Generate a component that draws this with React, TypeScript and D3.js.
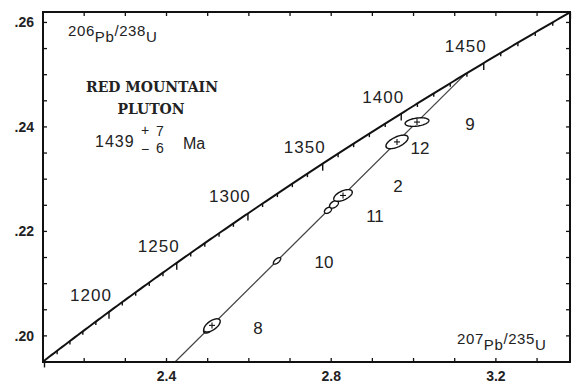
import React from "react";
import * as d3 from "d3";

const W = 572;
const H = 383;
const PLOT = { left: 43, right: 570, top: 12, bottom: 362 };

// axes
const X_DOMAIN = [2.1, 3.38];
const Y_DOMAIN = [0.195, 0.262];
const X_LABEL_TICKS = [2.4, 2.8, 3.2];
const X_LABEL_TEXT = ["2.4", "2.8", "3.2"];
const X_MINOR_TICKS = [2.2, 2.3, 2.4, 2.5, 2.6, 2.7, 2.8, 2.9, 3.0, 3.1, 3.2, 3.3];
const Y_LABEL_TICKS = [0.2, 0.22, 0.24, 0.26];
const Y_LABEL_TEXT = [".20", ".22", ".24", ".26"];
const Y_MINOR_TICKS = [0.2, 0.205, 0.21, 0.215, 0.22, 0.225, 0.23, 0.235, 0.24, 0.245, 0.25, 0.255, 0.26];

// decay constants (per Ma)
const LAMBDA_238 = 1.55125e-4;
const LAMBDA_235 = 9.8485e-4;

// concordia
const CONCORDIA_AGE_LABELS = [1200, 1250, 1300, 1350, 1400, 1450];
const CONCORDIA_TICK_AGES = d3.range(1150, 1501, 10);

// discordia intercepts (Ma)
const UPPER_INTERCEPT = 1439;
const LOWER_INTERCEPT = 76;

// analyses: 207Pb/235U, 206Pb/238U, errors, correlation
const SAMPLE_X = [2.5008, 2.5105, 2.6684, 2.7922, 2.8068, 2.8287, 2.9598, 3.0084];
const SAMPLE_Y = [0.20126, 0.20201, 0.21436, 0.22403, 0.22517, 0.22688, 0.23713, 0.24093];
const SAMPLE_SX = [0.0108, 0.0199, 0.0089, 0.0087, 0.0108, 0.0225, 0.0269, 0.0289];
const SAMPLE_SY = [0.00072, 0.00126, 0.00063, 0.00059, 0.00072, 0.00112, 0.0013, 0.00082];
const SAMPLE_RHO = [0.45, 0.61, 0.665, 0.42, 0.45, 0.56, 0.605, 0.344];
const SAMPLE_CROSS = [false, true, false, false, false, true, true, true];

// fraction labels
const POINT_LABELS = ["8", "10", "11", "2", "12", "9"];
const POINT_LABEL_X = [2.6222, 2.7825, 2.9064, 2.9623, 3.0157, 3.1372];
const POINT_LABEL_Y = [0.20151, 0.21414, 0.22295, 0.22869, 0.23597, 0.24056];

const conc = (t: number): [number, number] => [
  Math.exp(LAMBDA_235 * t) - 1,
  Math.exp(LAMBDA_238 * t) - 1,
];

export default function App() {
  const x = d3.scaleLinear().domain(X_DOMAIN).range([PLOT.left, PLOT.right]);
  const y = d3.scaleLinear().domain(Y_DOMAIN).range([PLOT.bottom, PLOT.top]);

  const concAges = d3.range(1100, 1560, 2);
  const concPath = d3
    .line<number>()
    .x((t) => x(conc(t)[0]))
    .y((t) => y(conc(t)[1]))(concAges) as string;

  const inPlot = (px: number, py: number) =>
    px >= PLOT.left - 0.5 && px <= PLOT.right + 0.5 && py >= PLOT.top - 0.5 && py <= PLOT.bottom + 0.5;

  const up = conc(UPPER_INTERCEPT);
  const lo = conc(LOWER_INTERCEPT);
  const discPath = d3.line()([
    [x(lo[0]), y(lo[1])],
    [x(up[0]), y(up[1])],
  ]) as string;

  const ellipsePath = (i: number) => {
    const pts: [number, number][] = d3.range(0, 2 * Math.PI + 0.001, Math.PI / 36).map((a) => {
      const dx = SAMPLE_SX[i] * Math.cos(a);
      const dy = SAMPLE_SY[i] * (SAMPLE_RHO[i] * Math.cos(a) + Math.sqrt(1 - SAMPLE_RHO[i] ** 2) * Math.sin(a));
      return [x(SAMPLE_X[i] + dx), y(SAMPLE_Y[i] + dy)];
    });
    return d3.line().curve(d3.curveLinearClosed)(pts) as string;
  };

  const sans = "'Liberation Sans', Arial, sans-serif";

  return (
    <svg
      width={W}
      height={H}
      viewBox={`0 0 ${W} ${H}`}
      style={{ position: "absolute", left: 0, top: 0, background: "#fff" }}
      fontFamily={sans}
    >
      <defs>
        <clipPath id="plotclip">
          <rect x={PLOT.left} y={PLOT.top} width={PLOT.right - PLOT.left} height={PLOT.bottom - PLOT.top} />
        </clipPath>
      </defs>

      {/* discordia */}
      <path d={discPath} stroke="#444" strokeWidth={1.3} fill="none" clipPath="url(#plotclip)" />

      {/* concordia */}
      <path d={concPath} stroke="#111" strokeWidth={2} fill="none" clipPath="url(#plotclip)" />
      {CONCORDIA_TICK_AGES.map((t) => {
        const px = x(conc(t)[0]);
        const py = y(conc(t)[1]);
        if (!inPlot(px, py)) return null;
        const major = t % 50 === 0;
        return (
          <line key={t} x1={px} y1={py} x2={px} y2={py + (major ? 7 : 3.5)} stroke="#111" strokeWidth={1.4} />
        );
      })}
      {CONCORDIA_AGE_LABELS.map((t) => {
        const px = x(conc(t)[0]);
        const py = y(conc(t)[1]);
        return (
          <text key={t} x={px - 18} y={py - 11} fontSize={17} letterSpacing={1} textAnchor="middle" fill="#222">
            {t}
          </text>
        );
      })}

      {/* error ellipses */}
      {SAMPLE_X.map((_, i) => (
        <g key={i}>
          <path d={ellipsePath(i)} fill="#fff" stroke="#111" strokeWidth={1.4} />
          {SAMPLE_CROSS[i] && (
            <g stroke="#111" strokeWidth={1.1}>
              <line x1={x(SAMPLE_X[i]) - 3} x2={x(SAMPLE_X[i]) + 3} y1={y(SAMPLE_Y[i])} y2={y(SAMPLE_Y[i])} />
              <line x1={x(SAMPLE_X[i])} x2={x(SAMPLE_X[i])} y1={y(SAMPLE_Y[i]) - 3} y2={y(SAMPLE_Y[i]) + 3} />
            </g>
          )}
        </g>
      ))}

      {POINT_LABELS.map((l, i) => (
        <text
          key={l}
          x={x(POINT_LABEL_X[i])}
          y={y(POINT_LABEL_Y[i]) + 6}
          fontSize={17}
          textAnchor="middle"
          fill="#222"
        >
          {l}
        </text>
      ))}

      {/* frame ticks */}
      {X_MINOR_TICKS.map((v) => (
        <g key={"x" + v} stroke="#111" strokeWidth={1.3}>
          <line x1={x(v)} x2={x(v)} y1={PLOT.bottom} y2={PLOT.bottom - 4} />
          <line x1={x(v)} x2={x(v)} y1={PLOT.top} y2={PLOT.top + 4} />
        </g>
      ))}
      {Y_MINOR_TICKS.map((v) => (
        <g key={"y" + v} stroke="#111" strokeWidth={1.3}>
          <line x1={PLOT.left} x2={PLOT.left + 4} y1={y(v)} y2={y(v)} />
          <line x1={PLOT.right} x2={PLOT.right - 4} y1={y(v)} y2={y(v)} />
        </g>
      ))}

      <rect
        x={PLOT.left}
        y={PLOT.top}
        width={PLOT.right - PLOT.left}
        height={PLOT.bottom - PLOT.top}
        fill="none"
        stroke="#111"
        strokeWidth={2}
      />

      {X_LABEL_TICKS.map((v, i) => (
        <text key={v} x={x(v)} y={381} fontSize={14} textAnchor="middle" fill="#222" fontWeight="bold">
          {X_LABEL_TEXT[i]}
        </text>
      ))}
      {Y_LABEL_TICKS.map((v, i) => (
        <text key={v} x={34} y={y(v) + 5} fontSize={14} textAnchor="end" fill="#222" fontWeight="bold">
          {Y_LABEL_TEXT[i]}
        </text>
      ))}

      {/* axis titles */}
      <text x={68} y={36} fontSize={15} letterSpacing={0.6} fill="#222">
        206<tspan dy={6}>Pb</tspan>
        <tspan dy={-6}>/238</tspan>
        <tspan dy={6}>U</tspan>
      </text>
      <text x={457} y={344} fontSize={15} letterSpacing={0.6} fill="#222">
        207<tspan dy={6}>Pb</tspan>
        <tspan dy={-6}>/235</tspan>
        <tspan dy={6}>U</tspan>
      </text>

      {/* title */}
      <text x={152} y={92} fontSize={14} fontWeight="bold" textAnchor="middle" fontFamily="'DejaVu Serif', serif" fill="#222">
        RED MOUNTAIN
      </text>
      <text x={151} y={114} fontSize={14} fontWeight="bold" textAnchor="middle" fontFamily="'DejaVu Serif', serif" fill="#222">
        PLUTON
      </text>
      <text x={95} y={147} fontSize={16} letterSpacing={1} fill="#222">
        1439
      </text>
      <text x={145} y={135} fontSize={14} textAnchor="middle" fill="#222">+</text>
      <text x={160} y={136} fontSize={14} textAnchor="middle" fill="#222">7</text>
      <text x={145} y={154} fontSize={14} textAnchor="middle" fill="#222">−</text>
      <text x={160} y={153} fontSize={14} textAnchor="middle" fill="#222">6</text>
      <text x={183} y={149} fontSize={16} fill="#222">Ma</text>
    </svg>
  );
}
